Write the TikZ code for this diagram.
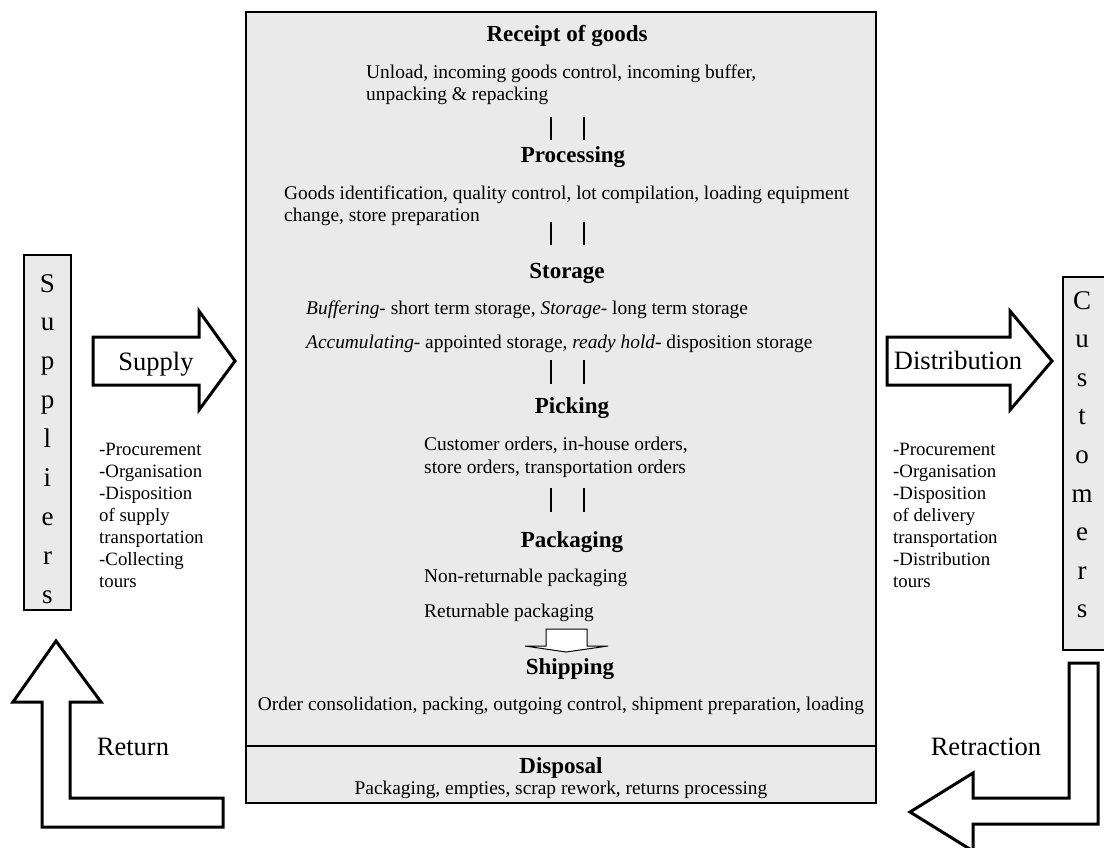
\documentclass[tikz,border=0pt]{standalone}
\usepackage{fontspec}
\setmainfont{Liberation Serif}
\definecolor{panel}{RGB}{234,234,234}
\begin{document}
\begin{tikzpicture}[x=1pt,y=-1pt,
  heading/.style={inner sep=0pt, anchor=base, font=\bfseries\fontsize{23}{26}\selectfont},
  body/.style={inner sep=0pt, anchor=base west, font=\fontsize{19.4}{22}\selectfont},
  bodyc/.style={inner sep=0pt, anchor=base, font=\fontsize{19.4}{22}\selectfont},
  side/.style={inner sep=0pt, anchor=base west, font=\fontsize{18.8}{22}\selectfont},
  flowlabel/.style={inner sep=0pt, anchor=base, font=\fontsize{26.5}{30}\selectfont},
  letter/.style={inner sep=0pt, anchor=base, font=\fontsize{27}{30}\selectfont},
  panelbox/.style={draw=black, line width=1.2pt, fill=panel},
  blockarrow/.style={draw=black, line width=3pt, fill=white, line join=miter},
  link/.style={draw=black, line width=1.2pt}
]
\useasboundingbox (0,0) rectangle (1104,847);
\clip (0,0) rectangle (1104,847);

% central warehouse panel with the disposal strip at its foot
\draw[panelbox] (246,12) rectangle (876,803);
\coordinate (divL) at (246,746);
\coordinate (divR) at (876,746);
\draw[link] (divL) -- (divR);

% side boxes
\draw[panelbox, line width=1.3pt] (24,255) rectangle (71,610);
\foreach \l [count=\i from 0] in {S,u,p,p,l,i,e,r,s}
  \node[letter] (sup\i) at (47.5,{292+\i*38.9}) {\l};
\draw[panelbox, line width=1.3pt] (1063,277) rectangle (1110,650);
\foreach \l [count=\i from 0] in {C,u,s,t,o,m,e,r,s}
  \node[letter] (cus\i) at (1082,{309+\i*38.6}) {\l};

% flow arrows
\draw[blockarrow] (93,337) -- (199,337) -- (199,311) -- (235,361) -- (199,410) -- (199,385) -- (93,385) -- cycle;
\draw[blockarrow] (887,337) -- (1010,337) -- (1010,311) -- (1052,361) -- (1010,410) -- (1010,385) -- (887,385) -- cycle;
\draw[blockarrow] (56,641) -- (101,702) -- (70,702) -- (70,798) -- (223,798) -- (223,827) -- (42,827) -- (42,702) -- (13,702) -- cycle;
\draw[blockarrow] (1069,663) -- (1098,663) -- (1098,824) -- (973,824) -- (973,851) -- (910,812) -- (973,773) -- (973,798) -- (1069,798) -- cycle;

\node[flowlabel] (supply) at (156,370) {Supply};
\node[flowlabel] (distribution) at (958,369) {Distribution};
\node[flowlabel] (return) at (133,755) {Return};
\node[flowlabel] (retraction) at (986,755) {Retraction};

% side notes
\node[side] (l1) at (99,455) {-Procurement};
\node[side] (l2) at (99,477) {-Organisation};
\node[side] (l3) at (99,499) {-Disposition};
\node[side] (l4) at (99,521) {of supply};
\node[side] (l5) at (99,543) {transportation};
\node[side] (l6) at (99,565) {-Collecting};
\node[side] (l7) at (99,587) {tours};
\node[side] (r1) at (893,455) {-Procurement};
\node[side] (r2) at (893,477) {-Organisation};
\node[side] (r3) at (893,499) {-Disposition};
\node[side] (r4) at (893,521) {of delivery};
\node[side] (r5) at (893,543) {transportation};
\node[side] (r6) at (893,565) {-Distribution};
\node[side] (r7) at (893,587) {tours};

% warehouse stages
\node[heading] (receipt) at (567,41) {Receipt of goods};
\node[body] (receiptA) at (366,78) {Unload, incoming goods control, incoming buffer,};
\node[body] (receiptB) at (366,100) {unpacking \& repacking};

\node[heading] (processing) at (573,162) {Processing};
\node[body] (processingA) at (284,199) {Goods identification, quality control, lot compilation, loading equipment};
\node[body] (processingB) at (284,221) {change, store preparation};

\node[heading] (storage) at (567,278) {Storage};
\node[body] (storageA) at (306,314) {\textit{Buffering}- short term storage, \textit{Storage}- long term storage};
\node[body] (storageB) at (306,348) {\textit{Accumulating}- appointed storage, \textit{ready hold}- disposition storage};

\node[heading] (picking) at (572,413) {Picking};
\node[body] (pickingA) at (424,450) {Customer orders, in-house orders,};
\node[body] (pickingB) at (424,473) {store orders, transportation orders};

\node[heading] (packaging) at (572,547) {Packaging};
\node[body] (packagingA) at (424,582) {Non-returnable packaging};
\node[body] (packagingB) at (424,617) {Returnable packaging};

\node[heading] (shipping) at (570,674) {Shipping};
\node[bodyc] (shippingA) at (561,710) {Order consolidation, packing, outgoing control, shipment preparation, loading};

\node[heading] (disposal) at (561,773) {Disposal};
\node[bodyc] (disposalA) at (561,794) {Packaging, empties, scrap rework, returns processing};

% double-bar links between the stages
\foreach \n/\top/\bot in {1/117/140, 2/222/245, 3/360/384, 4/488/512} {
  \coordinate (b\n at) at (551,\top);
  \coordinate (b\n ab) at (551,\bot);
  \coordinate (b\n bt) at (584,\top);
  \coordinate (b\n bb) at (584,\bot);
  \draw[link] (b\n at) -- (b\n ab);
  \draw[link] (b\n bt) -- (b\n bb);
}

% packaging to shipping arrow
\draw[draw=black, line width=1pt, fill=white, line join=miter]
  (546,629) -- (587,629) -- (587,646) -- (608,646) -- (566,652) -- (525,646) -- (546,646) -- cycle;
\end{tikzpicture}
\end{document}
